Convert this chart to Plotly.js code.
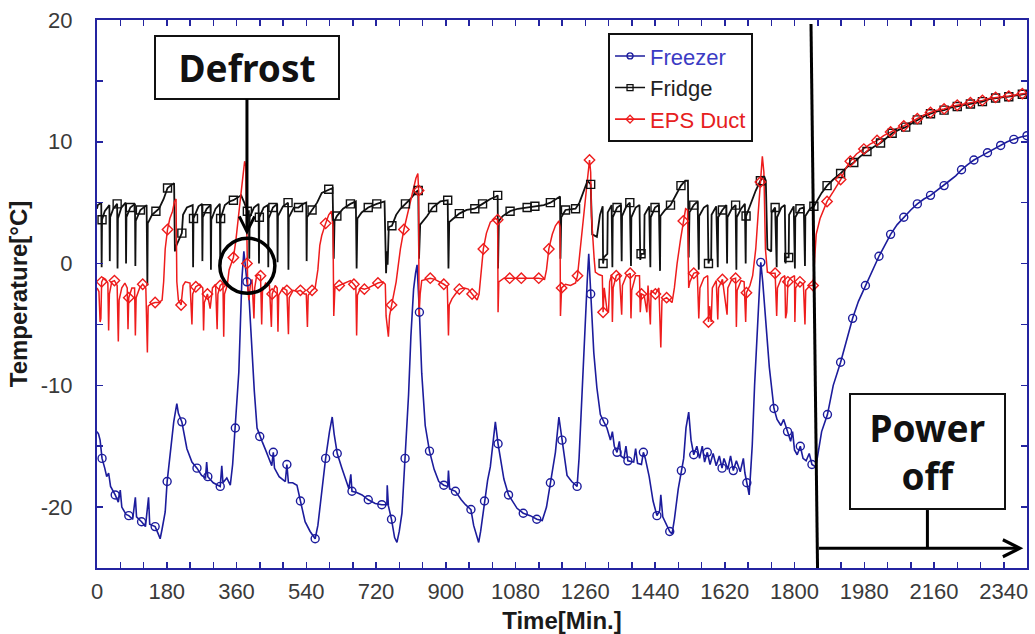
<!DOCTYPE html>
<html><head><meta charset="utf-8">
<script src="https://cdn.plot.ly/plotly-3.0.1.min.js"></script>
<style>html,body{margin:0;padding:0;background:#fff}#chart{width:1035px;height:634px}</style>
</head><body><div id="chart"></div>
<script>
// ---- Freezer (blue) ----
const freezerTime = [
0,4,8,13,20,25,30,35,47,55,
60,64,75,82,92,99,102,115,125,133,
136,150,158,163,168,176,181,190,198,206,
210,219,225,232,245,258,270,280,283,286,
300,310,318,322,325,335,344,350,357,362,
366,370,374,379,383,387,392,396,400,406,
413,420,426,435,445,451,455,458,470,486,
490,494,505,516,525,537,550,563,570,575,
581,590,600,607,612,620,632,640,650,655,
658,670,684,700,718,735,748,749,752,760,
768,774,780,787,795,804,810,817,822,826,
832,838,847,858,870,882,895,905,907,910,
925,940,951,965,972,980,985,990,1000,1008,
1015,1022,1028,1035,1042,1050,1062,1075,1084,1100,
1118,1135,1149,1160,1170,1183,1192,1200,1213,1225,
1239,1244,1248,1254,1260,1265,1269,1274,1282,1290,
1299,1308,1316,1325,1330,1335,1342,1348,1352,1360,
1365,1370,1385,1390,1395,1405,1410,1415,1425,1435,
1445,1452,1455,1460,1470,1478,1484,1490,1500,1508,
1514,1520,1527,1533,1540,1548,1555,1562,1568,1575,
1582,1590,1598,1606,1613,1618,1628,1635,1642,1650,
1660,1668,1672,1677,1683,1687,1691,1697,1704,1709,
1713,1718,1726,1735,1747,1755,1765,1772,1782,1790,
1795,1800,1807,1815,1822,1830,1838,1845,1855,1862,
1870,1885,1900,1919,1935,1950,1965,1983,2000,2018,
2033,2048,2065,2082,2100,2117,2134,2151,2168,2186,
2200,2216,2231,2246,2263,2280,2298,2315,2332,2349,
2366,2384,2400];
const freezerTemp = [
-13.8,-14.0,-14.5,-16.0,-16.8,-17.5,-17.2,-18.3,-19.0,-19.6,
-18.6,-20.0,-20.6,-20.7,-21.0,-19.2,-20.8,-21.2,-21.6,-19.2,
-21.4,-21.6,-22.2,-22.6,-21.8,-20.4,-17.9,-15.5,-13.0,-11.5,
-12.3,-13.0,-14.0,-15.2,-16.3,-16.8,-17.4,-17.6,-16.3,-17.5,
-18.0,-18.2,-18.3,-16.6,-18.0,-17.6,-18.2,-16.5,-13.5,-11.0,
-8.9,-5.0,-1.2,1.0,-0.5,-1.5,-2.6,-5.0,-7.5,-10.5,
-13.5,-14.2,-14.6,-15.3,-16.2,-16.6,-15.5,-16.8,-17.5,-17.9,
-16.5,-18.0,-18.0,-18.2,-19.5,-21.2,-22.0,-22.6,-21.5,-20.0,
-18.2,-16.0,-13.8,-12.6,-14.0,-15.6,-16.8,-17.6,-18.5,-17.3,
-18.7,-18.8,-19.0,-19.4,-19.7,-19.8,-19.8,-18.2,-19.9,-21.0,
-22.5,-22.9,-22.0,-20.5,-16.0,-10.8,-6.0,-2.1,-0.8,-0.1,
-4.0,-9.0,-13.3,-15.4,-16.9,-17.9,-18.2,-18.3,-17.0,-18.5,
-18.7,-19.4,-19.8,-20.2,-21.5,-22.5,-22.9,-22.0,-19.5,-17.8,
-16.7,-14.5,-13.0,-14.8,-16.3,-17.7,-19.0,-19.7,-20.1,-20.5,
-20.7,-21.0,-21.1,-20.0,-18.0,-15.5,-12.6,-14.5,-17.4,-17.9,
-18.3,-16.0,-13.0,-8.5,-5.3,-1.5,0.8,-2.5,-7.3,-10.2,
-12.4,-13.0,-13.5,-14.5,-13.8,-15.0,-15.5,-14.6,-15.8,-16.0,
-15.0,-16.2,-16.3,-15.2,-16.4,-16.5,-15.5,-16.0,-17.5,-19.5,
-20.7,-20.3,-19.0,-20.8,-21.5,-22.0,-22.2,-21.0,-18.5,-17.0,
-16.0,-13.5,-12.2,-14.5,-15.7,-15.0,-16.0,-15.0,-16.3,-15.5,
-16.5,-15.6,-16.6,-15.8,-16.8,-16.0,-16.9,-15.8,-17.0,-16.2,
-17.1,-16.0,-17.2,-18.0,-19.0,-17.0,-14.9,-10.0,-5.3,-1.5,
0.1,-1.5,-4.8,-8.5,-11.9,-12.8,-13.3,-12.8,-13.8,-14.6,
-13.8,-15.3,-15.7,-15.0,-16.0,-16.2,-15.6,-16.5,-16.7,-15.5,
-13.8,-12.4,-10.0,-8.1,-6.2,-4.5,-3.1,-1.8,-0.6,0.6,
1.5,2.4,3.2,3.8,4.4,4.9,5.3,5.6,6.0,6.4,
6.8,7.2,7.7,8.1,8.5,8.8,9.1,9.4,9.7,10.0,
10.2,10.4,10.5];

// ---- Fridge (black) ----
const fridgeTime = [
0,2,11,12,13,20,32,33,34,42,
52,53,54,63,74,75,76,86,98,99,
100,112,128,130,131,142,152,160,172,182,
194,199,201,205,219,222,232,247,248,249,
262,271,272,273,283,293,294,295,306,317,
318,319,330,342,352,362,372,380,388,392,
393,394,405,417,418,419,430,441,442,443,
454,465,466,467,480,493,494,495,508,520,
532,540,541,542,555,568,580,598,608,611,
613,619,635,654,668,670,672,683,700,722,
742,746,748,750,753,761,772,783,796,809,
824,829,831,834,852,866,886,905,907,909,
916,935,954,975,995,1015,1030,1034,1035,1037,
1047,1066,1086,1110,1130,1153,1170,1187,1195,1196,
1198,1209,1235,1245,1252,1260,1266,1274,1278,1290,
1298,1305,1306,1308,1317,1318,1328,1330,1331,1342,
1352,1354,1355,1366,1375,1378,1379,1390,1400,1402,
1404,1412,1413,1425,1428,1429,1440,1450,1453,1454,
1466,1480,1494,1507,1518,1525,1527,1529,1540,1550,
1553,1554,1566,1576,1578,1580,1585,1586,1598,1602,
1603,1614,1624,1626,1627,1638,1648,1650,1651,1662,
1672,1674,1675,1685,1700,1712,1721,1726,1730,1740,
1741,1750,1754,1755,1766,1775,1777,1778,1785,1786,
1798,1801,1802,1814,1824,1827,1828,1840,1850,1860,
1870,1884,1900,1919,1935,1953,1970,1987,2005,2022,
2037,2052,2070,2087,2102,2117,2135,2151,2168,2186,
2203,2220,2237,2254,2270,2285,2302,2319,2336,2353,
2370,2388,2400];
const fridgeTemp = [
4.5,4.8,5.0,-0.3,3.6,4.3,4.8,0.2,3.8,4.5,
4.9,-0.4,3.7,4.6,5.0,0.0,3.8,4.6,4.9,-0.2,
3.5,4.4,4.8,-1.8,3.3,4.0,4.3,4.5,5.3,6.2,
6.5,6.6,1.0,1.5,2.5,4.0,4.6,4.8,-0.3,3.7,
4.7,4.9,0.2,3.8,4.5,4.8,-0.5,3.6,4.5,4.9,
-0.1,3.7,4.8,5.1,5.2,5.4,5.6,5.0,4.3,4.3,
0.4,3.8,4.6,4.9,0.0,3.8,4.6,4.8,-0.3,3.7,
4.6,4.9,0.1,3.9,4.7,5.0,-0.5,3.8,4.6,4.6,
4.9,5.0,0.2,3.8,4.4,5.0,5.8,6.1,6.2,0.4,
3.5,3.9,4.5,4.9,5.1,-0.4,3.7,4.2,4.6,4.9,
5.1,-0.8,1.0,-0.1,3.0,3.1,4.0,4.5,4.9,5.3,
5.9,6.0,0.4,3.2,3.9,4.6,5.1,5.2,-0.4,3.4,
3.6,4.1,4.4,4.5,4.9,5.3,5.5,5.6,-0.4,3.5,
3.9,4.3,4.5,4.6,4.7,4.8,5.0,5.3,5.5,0.4,
3.8,4.4,4.5,5.0,5.6,6.3,6.8,6.5,2.4,2.2,
4.0,4.7,0.0,0.5,0.8,4.2,4.8,-0.3,3.8,4.6,
4.8,0.2,3.9,4.7,5.0,-0.2,3.8,4.6,4.8,0.3,
0.8,0.8,4.0,4.7,-0.3,3.8,4.6,4.8,-0.6,3.9,
4.4,4.8,5.6,6.4,6.8,6.8,0.5,4.2,4.8,5.1,
-0.5,3.9,4.6,4.8,0.0,0.3,0.3,4.0,4.7,-0.3,
3.8,4.4,4.8,0.0,3.8,4.5,4.8,-0.5,3.8,4.5,
4.9,0.0,3.9,4.8,6.0,6.8,7.2,6.8,1.2,1.0,
4.2,4.6,-0.3,3.8,4.6,4.8,0.0,0.5,0.5,4.0,
4.7,-0.4,3.8,4.5,4.6,-0.2,3.9,4.5,4.7,5.3,
5.8,6.4,6.9,7.4,7.9,8.3,8.8,9.2,9.6,9.9,
10.3,10.7,11.0,11.2,11.5,11.8,12.1,12.3,12.5,12.6,
12.8,12.9,13.0,13.1,13.2,13.3,13.5,13.6,13.65,13.7,
13.8,13.9,13.95];

// ---- EPS Duct (red) ----
const epsTime = [
0,5,8,10,12,17,22,28,30,32,
38,45,52,55,57,64,72,78,80,82,
90,97,99,101,110,118,126,130,132,140,
150,160,168,172,176,182,188,195,200,204,
206,210,217,222,228,240,245,247,255,265,
273,275,277,285,292,298,306,310,312,318,
325,327,329,336,341,346,352,358,364,370,
376,381,384,387,389,392,396,400,405,407,
412,417,422,425,427,435,445,450,452,460,
465,467,469,480,490,494,496,506,516,525,
535,540,543,545,555,563,570,575,580,590,
598,605,609,611,614,625,640,654,663,668,
670,672,680,690,700,712,725,738,744,746,
749,752,755,760,766,772,778,783,792,800,
810,818,823,828,830,831,834,838,848,860,
872,885,895,904,907,909,916,925,935,948,
958,968,981,986,990,997,1005,1015,1028,1034,
1035,1037,1050,1065,1080,1095,1110,1125,1140,1155,
1160,1166,1175,1183,1192,1195,1196,1199,1209,1222,
1235,1240,1246,1252,1256,1261,1265,1271,1274,1276,
1280,1283,1286,1295,1304,1306,1309,1316,1320,1323,
1328,1330,1332,1340,1348,1354,1356,1366,1376,1378,
1380,1390,1400,1402,1405,1412,1419,1422,1428,1430,
1441,1450,1455,1458,1470,1484,1490,1497,1506,1513,
1519,1524,1527,1530,1540,1549,1553,1556,1566,1576,
1578,1581,1585,1588,1598,1602,1604,1614,1622,1626,
1628,1638,1648,1650,1652,1662,1670,1674,1676,1685,
1692,1700,1706,1712,1717,1721,1725,1730,1740,1750,
1754,1756,1766,1775,1777,1780,1783,1790,1800,1801,
1803,1814,1823,1827,1829,1840,1848,1852,1856,1866,
1875,1884,1900,1919,1932,1944,1960,1979,1995,2013,
2030,2048,2065,2082,2100,2117,2134,2151,2168,2186,
2203,2220,2237,2254,2270,2285,2302,2319,2336,2353,
2370,2388,2400];
const epsTemp = [
-2.0,-2.3,-4.8,-4.5,-1.5,-1.2,-1.3,-1.6,-5.5,-2.5,
-1.5,-1.4,-1.8,-6.4,-3.0,-2.0,-1.6,-2.0,-5.4,-2.8,
-2.0,-2.0,-5.9,-2.8,-2.0,-1.7,-2.0,-7.3,-3.5,-3.3,
-3.2,-3.2,-3.0,-1.5,1.2,2.8,3.7,4.3,5.1,5.3,
-1.5,-3.0,-3.4,-1.8,-1.5,-1.6,-5.0,-2.5,-1.9,-1.7,
-2.0,-5.5,-3.2,-2.5,-3.7,-2.0,-1.7,-5.4,-2.5,-1.8,
-1.6,-6.0,-2.5,-1.8,-0.5,0.0,0.5,1.8,3.8,5.3,
7.0,8.4,8.0,0.0,-2.0,-3.0,-1.7,-1.3,-4.5,-2.0,
-1.0,-0.9,-1.0,-5.0,-2.3,-1.6,-1.8,-5.2,-2.5,-1.8,
-2.0,-5.6,-2.6,-2.0,-2.2,-5.8,-2.8,-2.2,-2.3,-2.2,
-2.5,-2.5,-5.2,-2.6,-2.2,-2.0,-0.5,1.5,2.3,3.3,
4.0,4.3,3.0,-4.3,-2.0,-1.8,-1.6,-1.4,-1.7,-1.9,
-5.9,-2.6,-2.0,-2.1,-2.0,-1.8,-1.6,-1.5,-1.7,-4.3,
-5.5,-6.0,-4.3,-3.4,-2.5,-1.5,0.0,1.2,2.8,3.9,
5.3,6.4,7.0,7.4,6.0,-4.3,-2.5,-1.4,-1.3,-1.2,
-1.3,-1.5,-1.7,-1.9,-5.9,-3.4,-2.9,-2.5,-2.1,-2.0,
-2.1,-2.5,-3.0,-2.5,-1.0,1.2,2.5,3.4,3.7,3.6,
-4.0,-1.5,-1.2,-1.2,-1.2,-1.2,-1.2,-1.2,-1.2,-1.3,
-0.5,1.2,2.4,3.1,3.5,3.0,-4.3,-2.0,-1.7,-1.8,
-1.6,-1.0,1.0,3.0,3.9,5.5,6.7,8.5,7.5,3.9,
1.5,0.4,-0.7,-0.9,-1.0,-4.0,-2.0,-3.8,-4.0,-1.5,
-0.9,-4.8,-2.0,-1.0,-0.8,-4.2,-1.8,-1.0,-0.8,-4.5,
-2.2,-1.0,-1.0,-4.0,-2.5,-2.6,-4.0,-1.8,-5.0,-2.2,
-2.5,-2.0,-6.9,-3.0,-2.8,-3.2,-2.0,0.0,2.0,3.5,
4.5,4.4,-2.0,-1.5,-0.8,-0.7,-4.5,-2.0,-1.2,-1.0,
-4.8,-3.5,-4.8,-2.0,-1.4,-4.6,-2.0,-1.3,-3.0,-4.2,
-2.0,-1.3,-1.2,-5.2,-2.2,-1.4,-1.5,-4.8,-2.4,-1.8,
-1.0,1.2,4.0,6.7,8.8,7.5,1.2,-0.7,-0.8,-0.8,
-4.3,-2.0,-1.2,-1.0,-4.5,-4.0,-1.5,-1.2,-1.0,-4.8,
-2.0,-1.5,-1.7,-5.0,-2.2,-1.8,-1.8,0.4,2.4,3.7,
4.4,5.1,5.9,6.9,7.8,8.4,9.0,9.4,9.8,10.1,
10.5,10.8,11.1,11.3,11.6,11.9,12.2,12.4,12.6,12.7,
12.9,13.0,13.1,13.2,13.3,13.4,13.55,13.65,13.7,13.75,
13.85,13.95,14.0];

const seriesNames = ['Freezer', 'Fridge', 'EPS Duct'];
const xTickVals = [0,180,360,540,720,900,1080,1260,1440,1620,1800,1980,2160,2340];
const yTickVals = [-20,-10,0,10,20];

// markers appear on every ~34th minute of the logged data (pick the nearest logged point)
function markerSubset(t, v, step, offset) {
  const mx = [], my = [];
  let last = -1;
  for (let m = offset; m <= t[t.length - 1]; m += step) {
    let best = 0, bd = Infinity;
    for (let i = 0; i < t.length; i++) {
      const d = Math.abs(t[i] - m);
      if (d < bd) { bd = d; best = i; }
    }
    if (best !== last) { mx.push(t[best]); my.push(v[best]); last = best; }
  }
  return [mx, my];
}

const BLUE = '#1c1c9c', BLACK = '#111111', RED = '#ee1c1c';
const styles = [
  {c: BLUE, sym: 'circle-open', txt: '#3b3bc4', w: 1.6},
  {c: BLACK, sym: 'square-open', txt: '#222222', w: 1.8},
  {c: RED, sym: 'diamond-open', txt: '#e62020', w: 1.5}
];
const dataSets = [[freezerTime, freezerTemp], [fridgeTime, fridgeTemp], [epsTime, epsTemp]];

const traces = [];
dataSets.forEach((d, k) => {
  traces.push({x: d[0], y: d[1], type: 'scatter', mode: 'lines',
    line: {color: styles[k].c, width: styles[k].w}, showlegend: false, hoverinfo: 'skip'});
});
dataSets.forEach((d, k) => {
  const [mx, my] = markerSubset(d[0], d[1], 34, 14);
  traces.push({x: mx, y: my, type: 'scatter', mode: 'markers',
    marker: {symbol: styles[k].sym, size: 8, color: styles[k].c, line: {width: 1.4, color: styles[k].c}},
    showlegend: false, hoverinfo: 'skip'});
});
seriesNames.forEach((n, k) => {
  traces.push({x: [null], y: [null], type: 'scatter', mode: 'lines+markers',
    name: '<span style="color:' + styles[k].txt + '">' + n + '</span>',
    line: {color: styles[k].c, width: 1.6},
    marker: {symbol: styles[k].sym, size: 6, color: styles[k].c, line: {width: 1.3, color: styles[k].c}}});
});

const AX = '#2424a0';
const tickFont = {family: '"Liberation Sans", Arial, sans-serif', size: 22, color: '#3a3a3a'};
const layout = {
  width: 1035, height: 634,
  margin: {l: 97, r: 8, t: 20, b: 66},
  paper_bgcolor: '#ffffff', plot_bgcolor: '#ffffff',
  font: {family: '"Liberation Sans", Arial, sans-serif'},
  xaxis: {
    range: [0, 2400], tickmode: 'array', tickvals: xTickVals, ticktext: xTickVals.map(String),
    ticks: 'inside', ticklen: 6, tickwidth: 1.5, tickcolor: AX,
    minor: {dtick: 60, tick0: 0, ticks: 'inside', ticklen: 6, tickwidth: 1.5, tickcolor: AX},
    showline: true, linecolor: AX, linewidth: 2, mirror: 'ticks',
    showgrid: false, zeroline: false, tickfont: tickFont, ticklabelstandoff: 3,
    title: {text: '<b>Time[Min.]</b>', font: {size: 24, color: '#1a1a1a'}, standoff: 12}
  },
  yaxis: {
    range: [-25, 20], tickmode: 'array', tickvals: yTickVals, ticktext: yTickVals.map(String),
    ticks: 'inside', ticklen: 6, tickwidth: 1.5, tickcolor: AX,
    minor: {dtick: 5, tick0: 0, ticks: 'inside', ticklen: 6, tickwidth: 1.5, tickcolor: AX},
    showline: true, linecolor: AX, linewidth: 2, mirror: 'ticks',
    showgrid: false, zeroline: false, tickfont: tickFont, ticklabelstandoff: 18,
    title: {text: '<b>Temperature[°C]</b>', font: {size: 24, color: '#1a1a1a'}, standoff: 6}
  },
  legend: {
    x: 0.5495, y: 0.976, xanchor: 'left', yanchor: 'top',
    bgcolor: '#ffffff', bordercolor: '#111111', borderwidth: 2,
    font: {size: 22, family: '"Liberation Sans", Arial, sans-serif'},
    tracegroupgap: 0
  },
  shapes: [
    {type: 'line', xref: 'x', yref: 'y', x0: 1842.6, y0: 19.67, x1: 1859.4, y1: -25,
     line: {color: '#000', width: 3}},
    {type: 'circle', xref: 'x', yref: 'y', x0: 317, x1: 459, y0: -2.44, y1: 2.08,
     line: {color: '#000', width: 3.5}},
    {type: 'line', xref: 'x', yref: 'y', x0: 2143, x1: 2143, y0: -20.24, y1: -23.38,
     line: {color: '#000', width: 3}}
  ],
  annotations: [
    {x: 387, y: 2.35, xref: 'x', yref: 'y', axref: 'x', ayref: 'y', ax: 387, ay: 16.1,
     text: '<b>Defrost</b>', showarrow: true, arrowhead: 5, arrowsize: 1, arrowwidth: 3, arrowcolor: '#000',
     font: {family: '"Noto Sans", sans-serif', size: 37, color: '#111'},
     bordercolor: '#111', borderwidth: 2, borderpad: 0, bgcolor: '#fff', width: 182, height: 61},
    {x: 2143, y: -15.43, xref: 'x', yref: 'y', showarrow: false,
     text: '<b>Power<br>off</b>', xanchor: 'center', yanchor: 'middle',
     font: {family: '"Noto Sans", sans-serif', size: 37, color: '#111'},
     bordercolor: '#111', borderwidth: 2, borderpad: 0, bgcolor: '#fff', width: 153, height: 113},
    {x: 2390.5, y: -23.38, xref: 'x', yref: 'y', axref: 'x', ayref: 'y', ax: 1859, ay: -23.38,
     text: '', showarrow: true, arrowhead: 5, arrowsize: 1.1, arrowwidth: 3, arrowcolor: '#000'}
  ]
};
Plotly.newPlot('chart', traces, layout, {staticPlot: true, displayModeBar: false});
</script></body></html>
